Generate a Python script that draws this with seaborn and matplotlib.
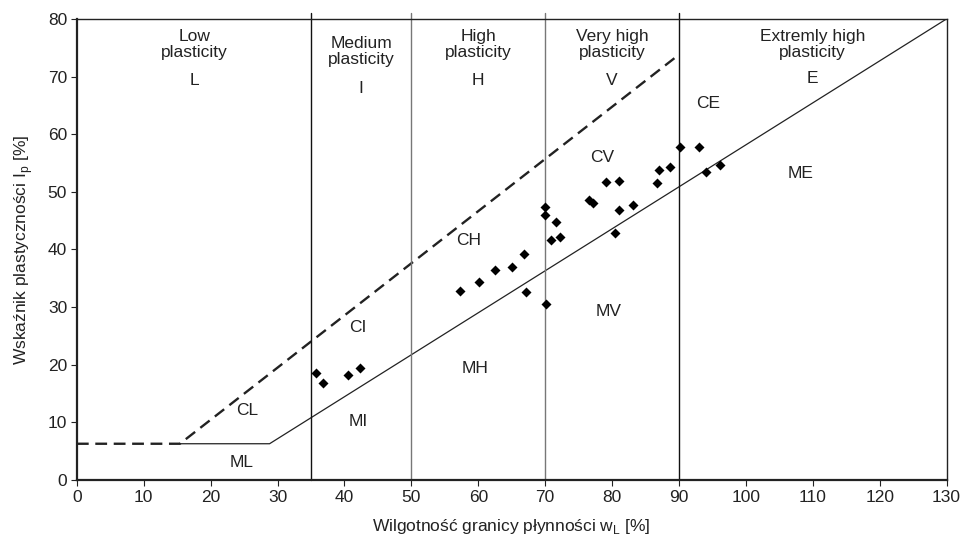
import matplotlib
matplotlib.use("Agg")
import matplotlib.pyplot as plt
import seaborn as sns
import pandas as pd

# ---- data ----
liquid_limit = [35.8, 36.8, 40.5, 42.3, 57.2, 60.1, 62.5, 65.0, 66.9, 67.2,
                70.1, 69.9, 69.9, 71.6, 70.8, 72.2, 76.6, 77.1, 79.1, 81.0,
                81.0, 83.1, 80.5, 86.7, 87.0, 88.6, 90.1, 93.0, 94.1, 96.1]
plasticity_index = [18.6, 16.8, 18.2, 19.4, 32.8, 34.4, 36.4, 37.0, 39.3, 32.6,
                    30.5, 47.3, 45.9, 44.8, 41.6, 42.2, 48.6, 48.0, 51.7, 51.9,
                    46.8, 47.8, 42.8, 51.5, 53.8, 54.3, 57.7, 57.7, 53.4, 54.7]

a_line_x = [15.4, 28.8, 130]
a_line_y = [6.3, 6.3, 80]
u_line_x = [0, 15.4, 90]
u_line_y = [6.3, 6.3, 73.8]

boundaries = [35, 50, 70, 90]
boundary_colors = ["#111111", "#777777", "#777777", "#111111"]

zone_titles = ["Low\nplasticity", "Medium\nplasticity", "High\nplasticity",
               "Very high\nplasticity", "Extremly high\nplasticity"]
zone_title_x = [17.6, 42.5, 60.0, 80.0, 110.0]
zone_title_y = [75.5, 74.3, 75.5, 75.5, 75.5]
zone_letters = ["L", "I", "H", "V", "E"]
zone_letter_y = [69.3, 68.0, 69.4, 69.4, 69.6]

soil_labels = ["CL", "ML", "CI", "MI", "CH", "MH", "CV", "MV", "CE", "ME"]
soil_x = [25.4, 24.7, 42.0, 42.0, 58.6, 59.5, 78.5, 79.5, 94.4, 108.2]
soil_y = [12.1, 3.1, 26.5, 10.2, 41.6, 19.4, 56.0, 29.2, 65.4, 53.1]

xticks = list(range(0, 131, 10))
yticks = list(range(0, 81, 10))

# ---- plot ----
sns.set_style("white")
plt.rcParams["font.family"] = ["Liberation Sans", "DejaVu Sans"]

FS = 12.5

fig = plt.figure(figsize=(9.61, 5.40), dpi=100)
ax = fig.add_axes([0.080, 0.111, 0.905, 0.854])

df = pd.DataFrame({"wL": liquid_limit, "Ip": plasticity_index})
sns.scatterplot(data=df, x="wL", y="Ip", marker="D", color="black", s=26,
                edgecolor="black", linewidth=0, ax=ax, zorder=5)

sns.lineplot(x=a_line_x, y=a_line_y, color="#222222", linewidth=0.9, ax=ax,
             sort=False, estimator=None)
ax.plot(u_line_x, u_line_y, color="#222222", linewidth=1.7, linestyle=(0, (5, 2.8)))

for bx, bc in zip(boundaries, boundary_colors):
    ax.plot([bx, bx], [0, 81], color=bc, linewidth=1.0, clip_on=False)

for t, x, y in zip(zone_titles, zone_title_x, zone_title_y):
    ax.text(x, y, t, ha="center", va="center", fontsize=FS, linespacing=1.1,
            color="#222222")
for t, x, y in zip(zone_letters, zone_title_x, zone_letter_y):
    ax.text(x, y, t, ha="center", va="center", fontsize=FS, color="#222222")
for t, x, y in zip(soil_labels, soil_x, soil_y):
    ax.text(x, y, t, ha="center", va="center", fontsize=FS, color="#222222")

ax.set_xlim(0, 130)
ax.set_ylim(0, 80)
ax.set_xticks(xticks)
ax.set_yticks(yticks)
ax.tick_params(axis="both", labelsize=FS, length=4, width=0.8, direction="out",
               colors="#222222", bottom=True, left=True, pad=3)
for s in ax.spines.values():
    s.set_color("#222222")
    s.set_linewidth(1.0)
ax.spines["left"].set_linewidth(1.6)
ax.spines["bottom"].set_linewidth(1.6)

ax.set_xlabel("Wilgotność granicy płynności w$_\\mathregular{L}$ [%]", fontsize=FS,
              color="#222222", labelpad=9)
ax.set_ylabel("Wskaźnik plastyczności I$_\\mathregular{p}$ [%]", fontsize=FS,
              color="#222222", labelpad=9)
ax.grid(False)

fig.savefig("out.png", dpi=100)
